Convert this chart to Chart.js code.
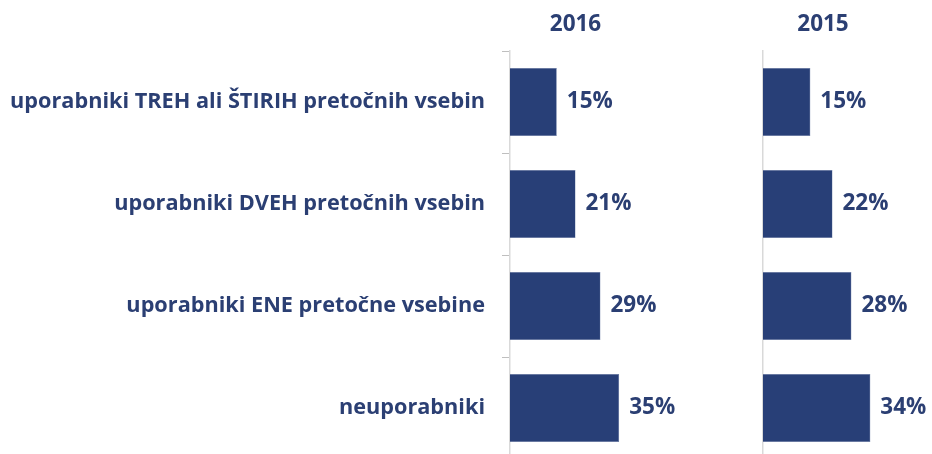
<!DOCTYPE html>
<html>
<head>
<meta charset="utf-8">
<script src="https://cdn.jsdelivr.net/npm/chart.js@4.4.1/dist/chart.umd.min.js"></script>
<style>
  html, body { margin: 0; padding: 0; background: #fff; overflow: hidden; }
  #wrap { position: relative; width: 932px; height: 454px; overflow: hidden; }
  canvas { position: absolute; top: 0; }
</style>
</head>
<body>
<div id="wrap">
  <canvas id="left" width="700" height="470" style="left:0"></canvas>
  <canvas id="right" width="232" height="470" style="left:700px"></canvas>
</div>
<script>
const categories = [
  'uporabniki TREH ali ŠTIRIH pretočnih vsebin',
  'uporabniki DVEH pretočnih vsebin',
  'uporabniki ENE pretočne vsebine',
  'neuporabniki'
];
const years = ['2016', '2015'];
const values2016 = [15, 21, 29, 35];
const values2015 = [15, 22, 28, 34];

const navy = '#283f77';
const textNavy = '#2b3f73';
const font = '"Open Sans", Lato, sans-serif';

// draws the year above the plot and the % label after each bar
const labelPlugin = {
  id: 'labels',
  afterDatasetsDraw(chart, args, opts) {
    const ctx = chart.ctx;
    const area = chart.chartArea;
    ctx.save();
    ctx.fillStyle = textNavy;
    ctx.font = 'bold 22.5px ' + font;
    ctx.textAlign = 'center';
    ctx.textBaseline = 'middle';
    ctx.fillText(opts.title, (area.left + area.right) / 2, 25);
    ctx.textAlign = 'left';
    chart.getDatasetMeta(0).data.forEach((bar, i) => {
      ctx.fillText(chart.data.datasets[0].data[i] + '%', bar.x + 10, bar.y);
    });
    ctx.restore();
  }
};

function makeChart(id, title, data, axisWidth, max, padRight, showLabels) {
  return new Chart(document.getElementById(id), {
    type: 'bar',
    data: {
      labels: categories,
      datasets: [{
        data: data,
        backgroundColor: navy,
        borderColor: '#5a6f9c',
        borderWidth: 0.5,
        categoryPercentage: 1,
        barPercentage: 0.667
      }]
    },
    options: {
      indexAxis: 'y',
      responsive: false,
      animation: false,
      layout: { padding: { top: 51, bottom: 11, right: padRight, left: 0 } },
      plugins: {
        legend: { display: false },
        tooltip: { enabled: false },
        labels: { title: title }
      },
      scales: {
        x: { display: false, min: 0, max: max },
        y: {
          afterFit(scale) {
            scale.width = axisWidth;
            scale.paddingTop = 0;
            scale.paddingBottom = 0;
          },
          grid: {
            offset: true,
            drawOnChartArea: false,
            drawTicks: showLabels,
            tickLength: 8,
            color: '#bfbfbf'
          },
          border: { display: true, color: '#d9d9d9', width: 1.5 },
          ticks: {
            display: showLabels,
            padding: 17,
            color: textNavy,
            font: { family: font, size: 21.7, weight: 'bold' }
          }
        }
      }
    },
    plugins: [labelPlugin]
  });
}

makeChart('left', years[0], values2016, 510, 42, 59, true);
makeChart('right', years[1], values2015, 63, 38, 49, false);
</script>
</body>
</html>
